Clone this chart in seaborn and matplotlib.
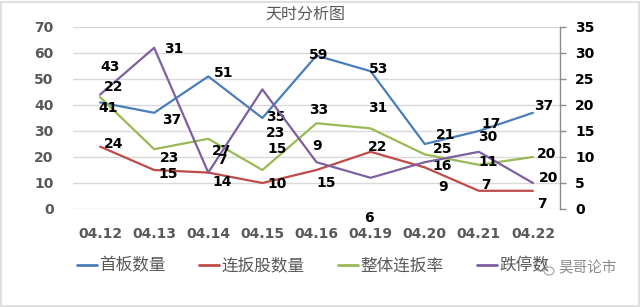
import matplotlib
matplotlib.use("Agg")
import matplotlib.pyplot as plt
import seaborn as sns
import pandas as pd
from matplotlib.lines import Line2D
from matplotlib.patches import Rectangle, Ellipse

# ---- data ----
dates = ["04.12", "04.13", "04.14", "04.15", "04.16", "04.19", "04.20", "04.21", "04.22"]
first_board = [41, 37, 51, 35, 59, 53, 25, 30, 37]          # 首板数量 (left)
consec_board = [24, 15, 14, 10, 15, 22, 16, 7, 7]          # 连扳股数量 (left)
consec_rate = [43, 23, 27, 15, 33, 31, 21, 17, 20]         # 整体连扳率 (left)
limit_down = [22, 31, 7, 23, 9, 6, 9, 11, 5]               # 跌停数 (right)
limit_down_labels = ["22", "31", "7", "23", "9", "6", "9", "11", "20"]

names = ["首板数量", "连扳股数量", "整体连扳率", "跌停数"]
colors = ["#4A7EBB", "#BE4B48", "#98B954", "#7D60A0"]

left_ticks = [0, 10, 20, 30, 40, 50, 60, 70]
right_ticks = [0, 5, 10, 15, 20, 25, 30, 35]

# label offsets (pixels) – style only
off_blue = [(8, -6), (18, -7), (15, 3), (13, 1), (2, 1), (8, 2), (18, -5), (9, -6), (11, 7)]
off_red = [(14, 3), (14, -4), (14, -9), (15, -1), (10, -13), (7, 5), (17, 1), (7, 6), (9, -13)]
off_green = [(10, 30), (15, -9), (13, -12), (15, 21), (2, 13), (7, 20), (21, 19), (12, 41), (14, 3)]
off_purple = [(14, 8), (20, -1), (14, 13), (13, -44), (1, 16), (-2, -40), (18, -25), (9, -10), (16, 5)]

sns.set_theme(style="white")
plt.rcParams["font.family"] = ["DejaVu Sans", "Noto Sans CJK SC"]
cjk = ["Noto Sans CJK SC", "DejaVu Sans"]

fig = plt.figure(figsize=(6.4, 3.07), dpi=100)
ax = fig.add_axes([73 / 640, 1 - 209 / 307, (560 - 73) / 640, (209 - 27) / 307])
ax2 = ax.twinx()

df_left = pd.DataFrame({
    "date": dates * 3,
    "value": first_board + consec_board + consec_rate,
    "series": [names[0]] * 9 + [names[1]] * 9 + [names[2]] * 9,
})
df_right = pd.DataFrame({"date": dates, "value": limit_down})

sns.lineplot(data=df_left, x="date", y="value", hue="series",
             palette=colors[:3], linewidth=1.6, ax=ax, legend=False, sort=False)
sns.lineplot(data=df_right, x="date", y="value", color=colors[3],
             linewidth=1.6, ax=ax2, legend=False, sort=False)

for a in (ax, ax2):
    a.set_xlim(-0.5, len(dates) - 0.5)
    a.set_xlabel("")
    a.set_ylabel("")
    a.set_facecolor("none")
ax.set_ylim(0, 70)
ax2.set_ylim(0, 35)
ax.set_yticks(left_ticks)
ax2.set_yticks(right_ticks)
ax.yaxis.grid(True, color="#D9D9D9", linewidth=1)
ax.xaxis.grid(False)
for s in ax.spines.values():
    s.set_visible(False)
for k, s in ax2.spines.items():
    s.set_visible(k == "right")
ax2.spines["right"].set_color("#8C8C8C")
ax2.spines["right"].set_linewidth(1)

ax.tick_params(axis="y", length=0, pad=14, labelsize=10, labelcolor="#595959")
ax.tick_params(axis="x", length=0, pad=13, labelsize=10, labelcolor="#595959")
ax2.tick_params(axis="y", length=4, width=1, color="#8C8C8C", direction="out",
                pad=7, labelsize=10, labelcolor="#000000")
for lab in ax.get_yticklabels() + ax.get_xticklabels() + ax2.get_yticklabels():
    lab.set_fontweight("bold")

x_idx = range(len(dates))
for vals, offs, labs, axx in [
    (first_board, off_blue, [str(v) for v in first_board], ax),
    (consec_board, off_red, [str(v) for v in consec_board], ax),
    (consec_rate, off_green, [str(v) for v in consec_rate], ax),
    (limit_down, off_purple, limit_down_labels, ax2),
]:
    for i, v, o, t in zip(x_idx, vals, offs, labs):
        axx.annotate(t, (i, v), xytext=o, textcoords="offset pixels",
                     ha="center", va="center", fontsize=10, fontweight="bold",
                     color="#000000", annotation_clip=False)

fig.text(305 / 640, 1 - 14 / 307, "天时分析图", family=cjk, fontsize=11.5,
         color="#595959", ha="center", va="center")

handles = [Line2D([0], [0], color=c, linewidth=2) for c in colors]
leg = fig.legend(handles, names, loc="center", bbox_to_anchor=(313 / 640, 1 - 266 / 307),
                 ncol=4, frameon=False, handlelength=1.2, handletextpad=0.15,
                 columnspacing=2.0, prop={"family": cjk, "size": 12})
for t in leg.get_texts():
    t.set_color("#595959")

# watermark
fig.text(588 / 640, 1 - 268 / 307, "昊哥论市", family=cjk, fontsize=10.5,
         color="#8A8A8A", ha="center", va="center")
fig.patches.append(Ellipse((541 / 640, 1 - 266 / 307), 12 / 640, 10 / 307,
                           transform=fig.transFigure, fill=False,
                           edgecolor="#A0A0A0", linewidth=0.8))
fig.patches.append(Ellipse((549 / 640, 1 - 271 / 307), 10 / 640, 8 / 307,
                           transform=fig.transFigure, facecolor="white",
                           edgecolor="#A0A0A0", linewidth=0.8))

fig.patches.append(Rectangle((0.002, 0.004), 0.996, 0.99, transform=fig.transFigure,
                             fill=False, edgecolor="#E0E0E0", linewidth=1.5))

fig.savefig("out.png", dpi=100)
